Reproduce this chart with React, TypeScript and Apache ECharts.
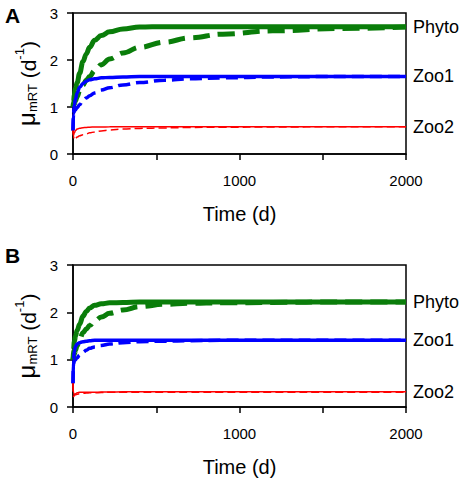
import React, { useEffect, useRef } from "react";
import * as echarts from "echarts";

// Time points (d)
const T = [0, 3, 8, 15, 25, 40, 60, 80, 100, 130, 170, 220, 300, 400, 550, 700, 900, 1200, 1600, 2000];

// Panel A
const phytoSolidA = [1.0, 1.1, 1.25, 1.4, 1.52, 1.72, 1.97, 2.13, 2.27, 2.42, 2.52, 2.6, 2.66, 2.7, 2.71, 2.71, 2.71, 2.71, 2.71, 2.71];
const phytoDashA = [1.0, 1.02, 1.07, 1.13, 1.22, 1.35, 1.47, 1.57, 1.65, 1.77, 1.9, 2.02, 2.15, 2.27, 2.38, 2.47, 2.55, 2.62, 2.67, 2.7];
const zoo1SolidA = [0.5, 0.85, 1.05, 1.17, 1.3, 1.42, 1.5, 1.55, 1.58, 1.6, 1.62, 1.63, 1.64, 1.65, 1.65, 1.65, 1.65, 1.65, 1.65, 1.65];
const zoo1DashA = [0.5, 0.85, 0.9, 0.94, 0.99, 1.05, 1.14, 1.19, 1.24, 1.3, 1.36, 1.41, 1.47, 1.52, 1.57, 1.6, 1.62, 1.64, 1.65, 1.65];
const zoo2SolidA = [0.5, 0.4, 0.45, 0.5, 0.53, 0.55, 0.56, 0.565, 0.57, 0.575, 0.575, 0.578, 0.58, 0.58, 0.58, 0.58, 0.58, 0.58, 0.58, 0.58];
const zoo2DashA = [0.5, 0.38, 0.3, 0.33, 0.36, 0.39, 0.41, 0.43, 0.45, 0.47, 0.49, 0.51, 0.53, 0.545, 0.555, 0.565, 0.57, 0.575, 0.58, 0.58];

// Panel B
const phytoSolidB = [1.0, 1.2, 1.38, 1.5, 1.62, 1.75, 1.92, 2.02, 2.09, 2.15, 2.18, 2.2, 2.21, 2.22, 2.22, 2.22, 2.22, 2.22, 2.22, 2.22];
const phytoDashB = [1.0, 1.05, 1.12, 1.2, 1.3, 1.43, 1.57, 1.65, 1.72, 1.82, 1.9, 1.98, 2.05, 2.12, 2.17, 2.19, 2.2, 2.21, 2.22, 2.22];
const zoo1SolidB = [0.5, 1.0, 1.18, 1.28, 1.33, 1.36, 1.38, 1.39, 1.4, 1.41, 1.41, 1.41, 1.41, 1.41, 1.41, 1.41, 1.41, 1.41, 1.41, 1.41];
const zoo1DashB = [0.5, 0.9, 0.97, 1.0, 1.04, 1.1, 1.16, 1.2, 1.24, 1.27, 1.3, 1.33, 1.36, 1.38, 1.39, 1.4, 1.41, 1.41, 1.41, 1.41];
const zoo2SolidB = [0.5, 0.3, 0.26, 0.28, 0.3, 0.31, 0.31, 0.31, 0.31, 0.31, 0.315, 0.315, 0.32, 0.32, 0.32, 0.32, 0.32, 0.32, 0.32, 0.32];
const zoo2DashB = [0.5, 0.22, 0.24, 0.26, 0.27, 0.28, 0.29, 0.295, 0.3, 0.3, 0.305, 0.31, 0.31, 0.31, 0.31, 0.31, 0.31, 0.31, 0.31, 0.31];

const groupNames = ["Phyto", "Zoo1", "Zoo2"];
const panelLetters = ["A", "B"];
const xTicks = [0, 1000, 2000];

const GREEN = "#0a7d0a";
const BLUE = "#0000ff";
const RED = "#ff0000";
const FONT = "'Liberation Sans', Arial, sans-serif";

const pair = (ys: number[]) => T.map((t, i) => [t, ys[i]]);

export default function App() {
  const ref = useRef<HTMLDivElement>(null);
  useEffect(() => {
    if (!ref.current) return;
    const chart = echarts.init(ref.current, null, { renderer: "svg" });

    const grids = [
      { left: 73, top: 13, width: 333, height: 141 },
      { left: 73, top: 265, width: 333, height: 142 },
    ];

    const xAxis = grids.map((_, i) => ({
      type: "value",
      gridIndex: i,
      min: 0,
      max: 2000,
      interval: 500,
      name: "Time (d)",
      nameLocation: "middle",
      nameGap: 50,
      nameTextStyle: { color: "#000", fontSize: 20, fontFamily: FONT },
      axisLine: { show: true, lineStyle: { color: "#000", width: 1.5 } },
      axisTick: { show: true, inside: false, length: 6, lineStyle: { color: "#000", width: 1.5 } },
      axisLabel: {
        color: "#000",
        fontSize: 15,
        fontFamily: FONT,
        margin: 19,
        formatter: (v: number) => (xTicks.includes(v) ? String(v) : ""),
      },
      splitLine: { show: false },
    }));

    const yAxis = grids.map((_, i) => ({
      type: "value",
      gridIndex: i,
      min: 0,
      max: 3,
      interval: 1,
      name: "{mu|μ}{sub|mRT}{n| (d}{sup|-1}{n|)}",
      nameLocation: "middle",
      nameGap: 30,
      nameRotate: 90,
      nameTextStyle: {
        color: "#000",
        fontFamily: FONT,
        rich: {
          mu: { fontSize: 24, fontFamily: FONT, color: "#000", lineHeight: 26, verticalAlign: "bottom" },
          n: { fontSize: 21, fontFamily: FONT, color: "#000", lineHeight: 26, verticalAlign: "bottom" },
          sub: { fontSize: 13, fontFamily: FONT, color: "#000", lineHeight: 13, verticalAlign: "bottom" },
          sup: { fontSize: 13, fontFamily: FONT, color: "#000", lineHeight: 13, verticalAlign: "top" },
        },
      },
      axisLine: { show: true, lineStyle: { color: "#000", width: 1.5 } },
      axisTick: { show: true, inside: false, length: 6, lineStyle: { color: "#000", width: 1.5 } },
      axisLabel: { color: "#000", fontSize: 15, fontFamily: FONT, margin: 15 },
      splitLine: { show: false },
    }));

    const panels = [
      [phytoSolidA, phytoDashA, zoo1SolidA, zoo1DashA, zoo2SolidA, zoo2DashA],
      [phytoSolidB, phytoDashB, zoo1SolidB, zoo1DashB, zoo2SolidB, zoo2DashB],
    ];
    const styles = [
      { color: GREEN, width: 5, dash: [17, 8] },
      { color: BLUE, width: 3.5, dash: [12, 6] },
      { color: RED, width: 1.5, dash: [8, 4] },
    ];

    const series: any[] = [];
    panels.forEach((arrs, p) => {
      [0, 1, 2].forEach((g) => {
        const st = styles[g];
        series.push({
          type: "line",
          xAxisIndex: p,
          yAxisIndex: p,
          data: pair(arrs[g * 2 + 1]),
          smooth: 0.4,
          smoothMonotone: "x",
          showSymbol: false,
          symbol: "none",
          lineStyle: { color: st.color, width: st.width, type: st.dash },
          z: 2,
        });
      });
      [0, 1, 2].forEach((g) => {
        const st = styles[g];
        series.push({
          type: "line",
          xAxisIndex: p,
          yAxisIndex: p,
          data: pair(arrs[g * 2]),
          smooth: 0.4,
          smoothMonotone: "x",
          showSymbol: false,
          symbol: "none",
          lineStyle: { color: st.color, width: st.width, type: "solid" },
          endLabel: {
            show: true,
            formatter: groupNames[g],
            color: "#000",
            fontSize: 18,
            fontFamily: FONT,
            distance: 7,
          },
          z: 3,
        });
      });
    });

    chart.setOption({
      animation: false,
      backgroundColor: "#fff",
      grid: grids.map((g) => ({ ...g, show: true, borderColor: "#000", borderWidth: 1.5, backgroundColor: "transparent" })),
      xAxis,
      yAxis,
      series,
      graphic: [
        { type: "text", left: 5, top: 5, style: { text: panelLetters[0], fontSize: 21, fontWeight: "bold", fontFamily: FONT, fill: "#000" } },
        { type: "text", left: 5, top: 245, style: { text: panelLetters[1], fontSize: 21, fontWeight: "bold", fontFamily: FONT, fill: "#000" } },
      ],
    });
    return () => chart.dispose();
  }, []);
  return <div ref={ref} style={{ position: "fixed", left: 0, top: 0, width: 467, height: 480 }} />;
}
